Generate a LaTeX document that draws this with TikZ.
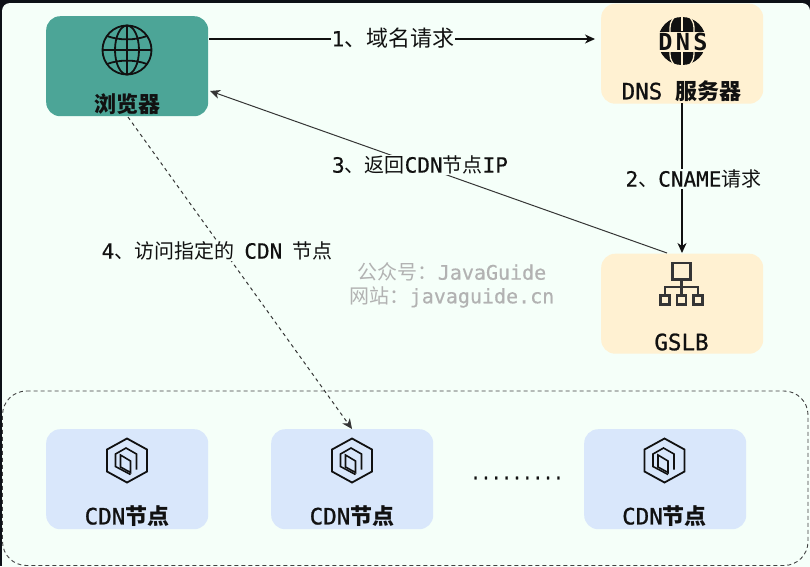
\documentclass[tikz,border=0pt]{standalone}
\usepackage{fontspec}
\setmainfont{DejaVu Sans Mono}
\newfontfamily\cjk{Noto Sans CJK SC}
\newfontfamily\monomid[FakeBold=1]{DejaVu Sans Mono}
\newfontfamily\monolab[FakeBold=0.5]{DejaVu Sans Mono}
\newfontfamily\dnsword[LetterSpace=14]{DejaVu Sans Mono Bold}
\usetikzlibrary{arrows.meta}
\definecolor{mint}{HTML}{F5FFF9}
\definecolor{darkbg}{HTML}{0D1117}
\definecolor{teal}{HTML}{4CA597}
\definecolor{cream}{HTML}{FFF1D2}
\definecolor{paleblue}{HTML}{D9E7FB}
\definecolor{ink}{HTML}{111111}
\newcommand{\cardcjk}[1]{{\fontsize{22}{24}\selectfont\cjk\bfseries #1}}
\newcommand{\labcjk}[1]{{\fontsize{20}{24}\selectfont\cjk #1}}
\tikzset{
  x=1pt,y=-1pt,
  card/.style={rounded corners=14pt,minimum width=162pt,minimum height=100pt,inner sep=0pt,anchor=north west},
  cardtext/.style={font=\fontsize{22.5}{24}\selectfont\monomid,text=ink,inner sep=0pt,anchor=center},
  lab/.style={font=\fontsize{21}{24}\selectfont\monolab,text=ink,fill=mint,inner sep=0.5pt,anchor=center},
  conn/.style={draw=ink,line width=1.1pt,-{Stealth[length=10pt,width=9pt,inset=3pt]}},
  icon/.style={draw=ink,line width=1.8pt,line join=miter}
}
\newcommand{\cdnicon}[1]{%
  \begin{scope}[shift={(#1)}]
    \draw[icon,line width=1.8pt] (0,-22) -- (20,-11) -- (20,11) -- (0,22) -- (-20,11) -- (-20,-11) -- cycle;
    \draw[icon,line width=1.6pt] (-6.5,-5.5) -- (-6.5,6.5) -- (3.5,12) -- (3.5,0.5) -- cycle;
    \draw[icon,line width=1.6pt] (3.5,14) -- (-11.5,6) -- (-11.5,-6.5) -- (-1,-12.5) -- (9.5,-6.5) -- (9.5,9);
  \end{scope}}
\begin{document}
\begin{tikzpicture}
\useasboundingbox (0,0) rectangle (810,566);
\fill[darkbg] (0,0) rectangle (810,566);
\fill[mint,rounded corners=8pt] (2,3) -- (810,3) -- (810,580) -- (2,580) -- cycle;

% dashed group
\draw[rounded corners=24pt,draw=ink!80,line width=0.9pt,dash pattern=on 4pt off 3pt] (2.5,391) -- (808,391) -- (808,565.5) -- (2.5,565.5) -- cycle;

% cards
\node[card,fill=teal] (browser) at (46,16) {};
\node[card,fill=cream] (dns) at (601,3.5) {};
\node[card,fill=cream] (gslb) at (601,253.5) {};
\node[card,fill=paleblue] (cdna) at (46,429) {};
\node[card,fill=paleblue] (cdnb) at (271,429) {};
\node[card,fill=paleblue] (cdnc) at (584,429) {};

% card labels
\node[cardtext] (tb) at (127,104) {\cardcjk{浏览器}};
\node[cardtext] (td) at (681.5,91) {DNS\hspace{13pt}\cardcjk{服务器}};
\node[cardtext] (tg) at (681.5,342) {GSLB};
\node[cardtext] (tc1) at (127,516) {CDN\cardcjk{节点}};
\node[cardtext] (tc2) at (352,516) {CDN\cardcjk{节点}};
\node[cardtext] (tc3) at (664.5,516) {CDN\cardcjk{节点}};

% connector anchors
\coordinate (b1) at (209,39);
\coordinate (d1) at (595,39);
\coordinate (d2) at (682,103);
\coordinate (g2) at (682,253);
\coordinate (g3) at (667,253);
\coordinate (b3) at (210,91);
\coordinate (b4) at (128,117);
\coordinate (c4) at (352,429);

\draw[conn] (b1) -- (d1);
\draw[conn] (d2) -- (g2);
\draw[conn,line width=1pt,draw=ink!85] (g3) -- (b3);
\draw[conn,line width=1pt,draw=ink!85,dash pattern=on 3.5pt off 3.5pt] (b4) -- (c4);

% connector labels
\node[lab] (l1) at (393,38) {1{\fontsize{22}{24}\selectfont\cjk 、域名请求}};
\node[lab] (l2) at (693.5,179) {2\labcjk{、}CNAME\labcjk{请求}};
\node[lab] (l3) at (420,165) {3\labcjk{、返回}CDN\labcjk{节点}IP};
\node[lab] (l4) at (217,251) {4\labcjk{、访问指定的}\hspace{10pt}CDN\hspace{10pt}\labcjk{节点}};

% watermark
\node[font=\fontsize{20}{24}\selectfont\monolab,text=black!30,inner sep=0pt] (w1) at (452,272) {{\cjk 公众号：}JavaGuide};
\node[font=\fontsize{20}{24}\selectfont\monolab,text=black!30,inner sep=0pt] (w2) at (452,297) {{\cjk 网站：}javaguide.cn};

% dots
\node[font=\fontsize{17.2}{20}\selectfont\monomid,text=ink,inner sep=0pt] (dots) at (517,478) {.........};

% globe icon
\begin{scope}[shift={(127,50)},icon]
  \draw (0,0) circle (24.5);
  \draw (0,-24.5) -- (0,24.5);
  \draw (-24.5,0) -- (24.5,0);
  \draw (0,0) ellipse (12 and 24.5);
  \draw (-20,-14) .. controls (-8,-9.5) and (8,-9.5) .. (20,-14);
  \draw (-20,14) .. controls (-8,9.5) and (8,9.5) .. (20,14);
\end{scope}

% DNS icon
\begin{scope}[shift={(682,41)}]
  \fill[ink] (0,0) circle (24);
  \draw[cream,line width=1.3pt] (0,-24.5) -- (0,-10) (0,24.5) -- (0,10);
  \draw[cream,line width=1.3pt] (-7,-25) .. controls (-12,-18) .. (-12,-8) (7,-25) .. controls (12,-18) .. (12,-8);
  \draw[cream,line width=1.3pt] (-7,25) .. controls (-12,18) .. (-12,8) (7,25) .. controls (12,18) .. (12,8);
  \fill[cream] (-26,-9) rectangle (26,11);
  \node[font=\fontsize{23.5}{24}\selectfont\dnsword,text=ink,inner sep=0pt] (dnslogo) at (1,1) {DNS};
\end{scope}

% GSLB icon
\begin{scope}[shift={(681.5,0)},icon,draw=ink!85,line width=2.2pt]
  \draw (-9,263) rectangle (9,279.5);
  \draw (0,279.5) -- (0,295.5);
  \draw (-16.5,295.5) -- (-16.5,287) -- (16.5,287) -- (16.5,295.5);
  \draw (-21,295.5) rectangle (-12,304.5);
  \draw (-4.5,295.5) rectangle (4.5,304.5);
  \draw (12,295.5) rectangle (21,304.5);
\end{scope}

\cdnicon{127,460.5}
\cdnicon{352,460.5}
\cdnicon{664.5,460.5}
\end{tikzpicture}
\end{document}
